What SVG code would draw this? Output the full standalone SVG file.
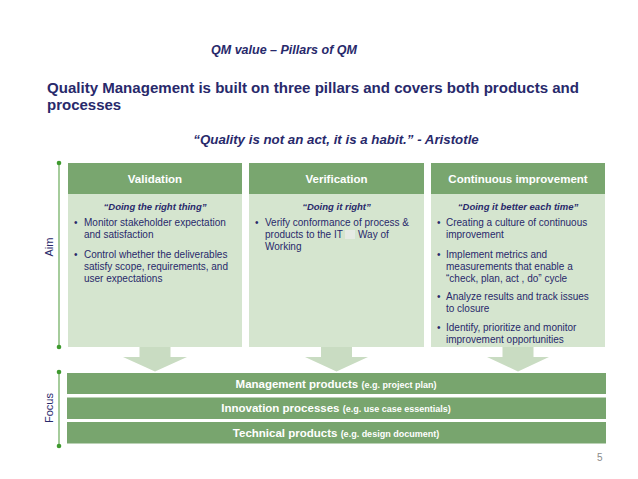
<svg xmlns="http://www.w3.org/2000/svg" width="638" height="479" viewBox="0 0 638 479">
<style>
.t{font-family:"Liberation Sans",Arial,sans-serif;fill:#28296b}
.bi{font-weight:bold;font-style:italic}
.b{font-weight:bold}
.hdr{fill:#79a66f}
.body{fill:#d5e5cf}
.arr{fill:#c9dcc2}
.ht{font-family:"Liberation Sans",Arial,sans-serif;font-weight:bold;font-size:11.5px;fill:#ffffff}
.sub{font-size:9.5px}
.bl{font-size:10px}
.bar{fill:#78a56e}
.bt{font-family:"Liberation Sans",Arial,sans-serif;font-weight:bold;fill:#ffffff;font-size:11.5px}
.sm{font-size:9px}
.ax{stroke:#6aaa5a;stroke-width:1.2}
.dot{fill:#3f9a2f}
</style>
<rect width="638" height="479" fill="#ffffff"/>
<g id="titles">
<text class="t bi" x="284" y="54" font-size="12.5" text-anchor="middle">QM value – Pillars of QM</text>
<text class="t b" x="47" y="93" font-size="15" textLength="532" lengthAdjust="spacingAndGlyphs">Quality Management is built on three pillars and covers both products and</text>
<text class="t b" x="47" y="110" font-size="15">processes</text>
<text class="t bi" x="336" y="144" font-size="13.3" text-anchor="middle">“Quality is not an act, it is a habit.” - Aristotle</text>
</g>
<g id="axis-aim">
<line class="ax" x1="59" y1="163" x2="59" y2="347"/>
<circle class="dot" cx="59" cy="163" r="2.3"/>
<circle class="dot" cx="59" cy="347" r="2.3"/>
<text class="t" x="0" y="0" font-size="11" text-anchor="middle" transform="translate(53,247) rotate(-90)">Aim</text>
</g>
<g id="axis-focus">
<line class="ax" x1="59" y1="372" x2="59" y2="446"/>
<circle class="dot" cx="59" cy="372" r="2.3"/>
<circle class="dot" cx="59" cy="446" r="2.3"/>
<text class="t" x="0" y="0" font-size="11" text-anchor="middle" transform="translate(53,408) rotate(-90)">Focus</text>
</g>
<g id="connectors">
<path class="arr" d="M139.5 347 H170.5 V357 H187 L155 371.5 L123 357 H139.5 Z"/>
<path class="arr" d="M321 347 H352 V357 H368 L336.5 371.5 L305 357 H321 Z"/>
<path class="arr" d="M502.5 347 H533.5 V357 H549 L518 371.5 L487 357 H502.5 Z"/>
</g>
<g id="validation">
<rect class="body" x="68" y="194" width="174" height="153"/>
<rect class="hdr" x="68" y="163" width="174" height="31"/>
<text class="ht" x="155" y="183" text-anchor="middle">Validation</text>
<text class="t bi sub" x="155" y="210" text-anchor="middle">“Doing the right thing”</text>
<g class="t bl">
<text x="74" y="226">•</text><text x="84" y="226">Monitor stakeholder expectation</text>
<text x="84" y="238">and satisfaction</text>
<text x="74" y="258">•</text><text x="84" y="258">Control whether the deliverables</text>
<text x="84" y="270">satisfy scope, requirements, and</text>
<text x="84" y="282">user expectations</text>
</g>
</g>
<g id="verification">
<rect class="body" x="249" y="194" width="175" height="153"/>
<rect class="hdr" x="249" y="163" width="175" height="31"/>
<text class="ht" x="336.5" y="183" text-anchor="middle">Verification</text>
<text class="t bi sub" x="336.5" y="210" text-anchor="middle">“Doing it right”</text>
<rect x="345" y="230" width="10" height="9" fill="#e6ebe4"/>
<g class="t bl">
<text x="255" y="226">•</text><text x="265" y="226">Verify conformance of process &amp;</text>
<text x="265" y="238">products to the IT</text><text x="358" y="238">Way of</text>
<text x="265" y="250">Working</text>
</g>
</g>
<g id="continuous-improvement">
<rect class="body" x="431" y="194" width="174" height="153"/>
<rect class="hdr" x="431" y="163" width="174" height="31"/>
<text class="ht" x="518" y="183" text-anchor="middle">Continuous improvement</text>
<text class="t bi sub" x="518" y="210" text-anchor="middle">“Doing it better each time”</text>
<g class="t bl">
<text x="437" y="226">•</text><text x="446" y="226">Creating a culture of continuous</text>
<text x="446" y="238">improvement</text>
<text x="437" y="258">•</text><text x="446" y="258">Implement metrics and</text>
<text x="446" y="270">measurements that enable a</text>
<text x="446" y="282">“check, plan, act , do” cycle</text>
<text x="437" y="300">•</text><text x="446" y="300">Analyze results and track issues</text>
<text x="446" y="312">to closure</text>
<text x="437" y="331">•</text><text x="446" y="331">Identify, prioritize and monitor</text>
<text x="446" y="343">improvement opportunities</text>
</g>
</g>
<g id="management-products">
<rect class="bar" x="67" y="373" width="539" height="21"/>
<text class="bt" x="336" y="387.5" text-anchor="middle">Management products <tspan class="sm">(e.g. project plan)</tspan></text>
</g>
<g id="innovation-processes">
<rect class="bar" x="67" y="397.5" width="539" height="21.5"/>
<text class="bt" x="336" y="412" text-anchor="middle">Innovation processes <tspan class="sm">(e.g. use case essentials)</tspan></text>
</g>
<g id="technical-products">
<rect class="bar" x="67" y="422" width="539" height="21.5"/>
<text class="bt" x="336" y="436.5" text-anchor="middle">Technical products <tspan class="sm">(e.g. design document)</tspan></text>
</g>
<text x="597" y="461" font-family="Liberation Sans,Arial,sans-serif" font-size="10" fill="#8a8a8a">5</text>
</svg>
